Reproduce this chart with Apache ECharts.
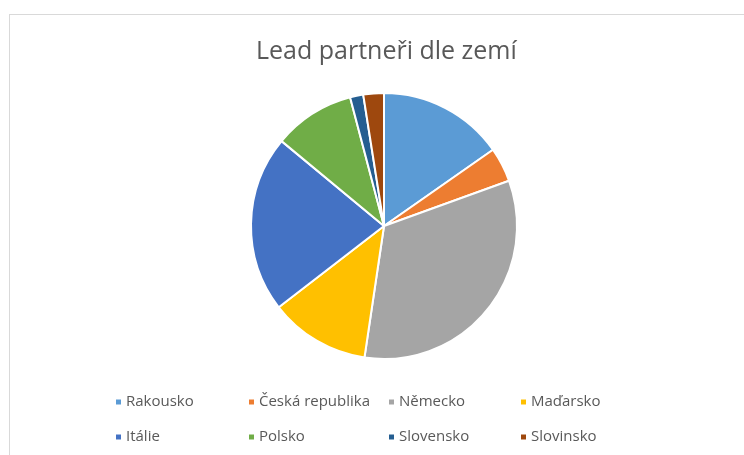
<!DOCTYPE html>
<html>
<head>
<meta charset="utf-8">
<script src="https://cdn.jsdelivr.net/npm/echarts@6/dist/echarts.min.js"></script>
<style>
html,body{margin:0;padding:0;background:#fff;}
#frame{position:absolute;left:9px;top:14px;width:800px;height:500px;border-left:1px solid #D9D9D9;border-top:1px solid #D9D9D9;}
#chart{position:absolute;left:0;top:0;width:744px;height:455px;}
</style>
</head>
<body>
<div id="frame"></div>
<div id="chart"></div>
<script>
const categories = ['Rakousko','Česká republika','Německo','Maďarsko','Itálie','Polsko','Slovensko','Slovinsko'];
const values = [15.3, 4.2, 32.9, 12.2, 21.5, 9.9, 1.6, 2.5];
const colors = ['#5B9BD5','#ED7D31','#A5A5A5','#FFC000','#4472C4','#70AD47','#255E91','#9E480E'];
const titleText = 'Lead partneři dle zemí';

const chart = echarts.init(document.getElementById('chart'), null, {renderer:'canvas'});
const font = 'Open Sans';
const colLeft = [114, 247, 387, 519];
const legends = [];
for (let c = 0; c < 4; c++) {
  legends.push({
    orient: 'vertical',
    left: colLeft[c],
    top: 394,
    padding: 0,
    itemWidth: 7,
    itemHeight: 7,
    itemGap: 19,
    icon: 'rect',
    data: [categories[c], categories[c + 4]],
    textStyle: {fontFamily: font, fontSize: 15, lineHeight: 16, color: '#595959', padding:[0,0,0,-1]},
    selectedMode: false
  });
}
chart.setOption({
  animation: false,
  color: colors,
  title: {
    text: titleText,
    left: 251,
    top: 34,
    textStyle: {fontFamily: font, fontSize: 25, fontWeight: 'normal', color: '#595959'}
  },
  legend: legends,
  series: [{
    type: 'pie',
    center: [384, 226],
    radius: [0, 133],
    startAngle: 90,
    clockwise: true,
    label: {show: false},
    labelLine: {show: false},
    itemStyle: {borderColor: '#fff', borderWidth: 2},
    emphasis: {disabled: true},
    data: categories.map((n, i) => ({name: n, value: values[i]}))
  }]
});
</script>
</body>
</html>
